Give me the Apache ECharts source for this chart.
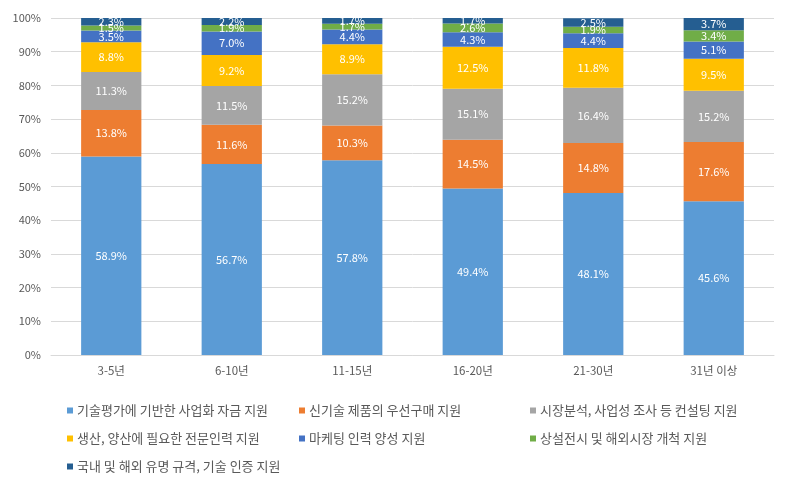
<!DOCTYPE html>
<html><head><meta charset="utf-8">
<script src="https://cdn.jsdelivr.net/npm/echarts@6/dist/echarts.min.js"></script>
<style>html,body{margin:0;padding:0;background:#fff}#c{width:792px;height:486px}</style>
</head><body><div id="c"></div>
<script>
const categories = ['3-5년','6-10년','11-15년','16-20년','21-30년','31년 이상'];
const seriesNames = ['기술평가에 기반한 사업화 자금 지원','신기술 제품의 우선구매 지원','시장분석, 사업성 조사 등 컨설팅 지원','생산, 양산에 필요한 전문인력 지원','마케팅 인력 양성 지원','상설전시 및 해외시장 개척 지원','국내 및 해외 유명 규격, 기술 인증 지원'];
const s1 = [58.9,56.7,57.8,49.4,48.1,45.6];
const s2 = [13.8,11.6,10.3,14.5,14.8,17.6];
const s3 = [11.3,11.5,15.2,15.1,16.4,15.2];
const s4 = [8.8,9.2,8.9,12.5,11.8,9.5];
const s5 = [3.5,7.0,4.4,4.3,4.4,5.1];
const s6 = [1.5,1.9,1.7,2.6,1.9,3.4];
const s7 = [2.3,2.2,1.7,1.7,2.5,3.7];
const yTicks = [0,10,20,30,40,50,60,70,80,90,100];
const allValues = [s1,s2,s3,s4,s5,s6,s7];
const colors = ['#5B9BD5','#ED7D31','#A5A5A5','#FFC000','#4472C4','#70AD47','#255E91'];
const font = 'Malgun Gothic, "Noto Sans CJK KR", sans-serif';
const chart = echarts.init(document.getElementById('c'));
const series = allValues.map((v,i)=>({
  name: seriesNames[i], type:'bar', stack:'t', barWidth:'50%',
  data: v, itemStyle:{color:colors[i]},
  label:{show:true, position:'inside', color:'#fff', fontSize:11, fontFamily:font,
    formatter: p => p.value.toFixed(1)+'%'}
}));
const legPos = [[62,399],[294,399],[525,399],[62,427],[294,427],[525,427],[62,455]];
const legends = seriesNames.map((n,i)=>({
  data:[n], left:legPos[i][0], top:legPos[i][1], itemWidth:6, itemHeight:6, itemGap:0,
  icon:'rect', textStyle:{color:'#595959', fontSize:13, fontFamily:font, padding:[0,0,0,-1]}, selectedMode:false
}));
chart.setOption({
  animation:false,
  color: colors,
  grid:{left:51, right:18, top:18, bottom:131},
  legend: legends,
  xAxis:{type:'category', data:categories,
    axisLine:{lineStyle:{color:'#D9D9D9'}}, axisTick:{show:false},
    axisLabel:{color:'#595959', fontSize:11.5, fontFamily:font, margin:10}},
  yAxis:{type:'value', min:0, max:100, interval:10,
    axisLabel:{color:'#595959', fontSize:11, fontFamily:font, margin:10,
      formatter: v => yTicks.includes(v) ? v+'%' : ''},
    splitLine:{lineStyle:{color:'#D9D9D9'}}, axisLine:{show:false}, axisTick:{show:false}},
  series: series
});
</script></body></html>
